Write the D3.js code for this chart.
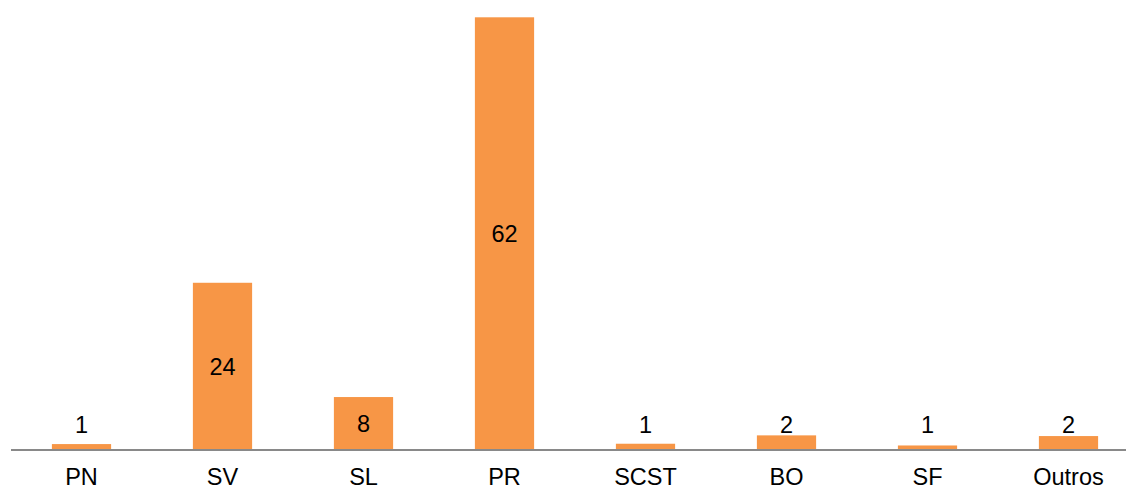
<!DOCTYPE html>
<html>
<head>
<meta charset="utf-8">
<script src="https://cdn.jsdelivr.net/npm/d3@7"></script>
<style>
  html, body { margin: 0; padding: 0; background: #fff; }
  svg { display: block; font-family: "Liberation Sans", Arial, sans-serif; }
</style>
</head>
<body>
<svg id="canvas" width="1126" height="487"></svg>
<script>
const categories = ["PN", "SV", "SL", "PR", "SCST", "BO", "SF", "Outros"]
const values = [0.85, 24, 7.6, 62.1, 0.9, 2.1, 0.65, 2]
const labels = ["1", "24", "8", "62", "1", "2", "1", "2"]

const svg = d3.select("#canvas")
const base = 450
const fs = 23.5

const x = d3.scaleBand()
  .domain(categories)
  .range([11, 1139])
  .paddingInner(0.58)
  .paddingOuter(0.29)

const y = d3.scaleLinear()
  .domain([0, d3.max(values)])
  .range([base, 17.3])

const data = categories.map((c, i) => ({ cat: c, v: values[i], label: labels[i] }))

svg.append("g")
  .selectAll("rect")
  .data(data)
  .enter().append("rect")
  .attr("x", d => x(d.cat))
  .attr("y", d => y(d.v))
  .attr("width", x.bandwidth())
  .attr("height", d => base - y(d.v))
  .attr("fill", "#F79646")

// axis line + category labels
const axis = svg.append("g")
  .attr("transform", `translate(0,${base})`)
  .call(d3.axisBottom(x).tickSize(0).tickPadding(0))
axis.select(".domain")
  .attr("d", `M11,0H1126`)
  .attr("stroke", "#898989")
  .attr("stroke-width", 2)
axis.selectAll("text")
  .attr("dy", null)
  .attr("y", 35)
  .attr("font-size", fs)
  .attr("font-family", "Liberation Sans, Arial, sans-serif")
  .attr("fill", "#000")

// value labels
svg.append("g")
  .selectAll("text")
  .data(data)
  .enter().append("text")
  .attr("x", d => x(d.cat) + x.bandwidth() / 2)
  .attr("y", d => {
    const top = y(d.v)
    if (base - top > 30) return (top + base) / 2 + 8.5
    return Math.min(top - 2, base - 17)
  })
  .attr("text-anchor", "middle")
  .attr("font-size", fs)
  .attr("fill", "#000")
  .text(d => d.label)
</script>
</body>
</html>
